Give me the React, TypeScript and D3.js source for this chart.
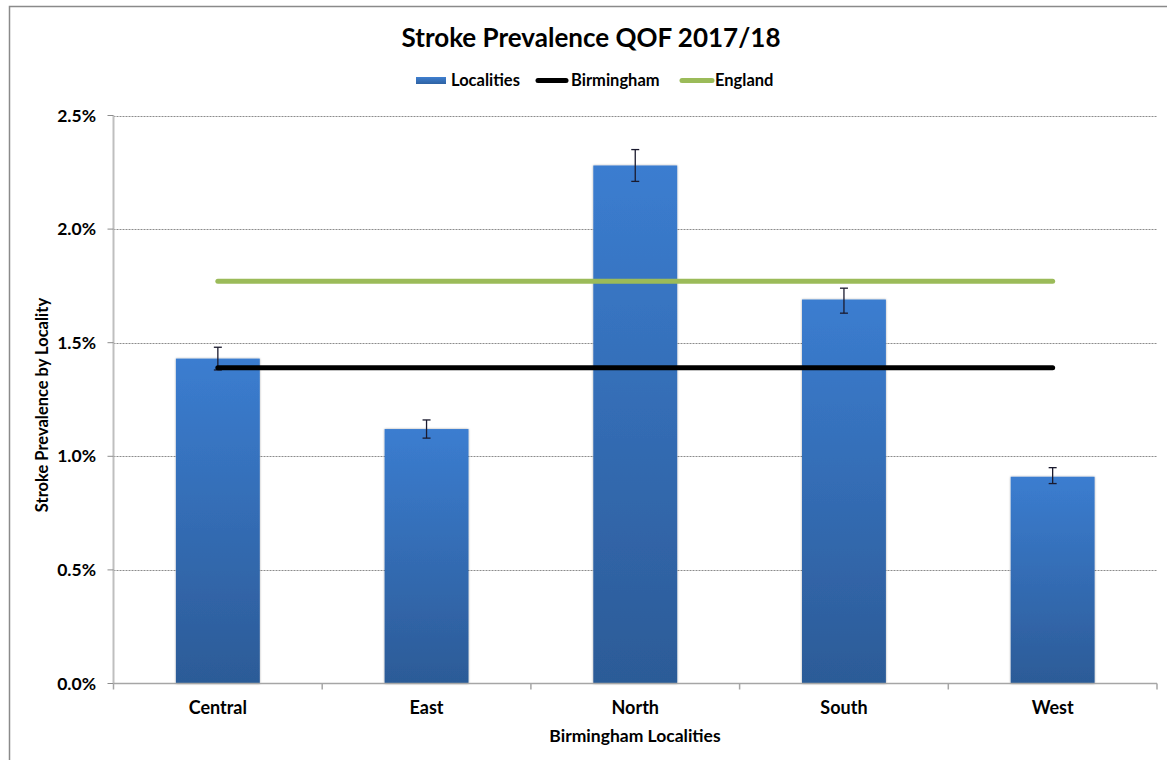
import React from "react";
import * as d3 from "d3";

const categories = ["Central", "East", "North", "South", "West"];
const values = [1.43, 1.12, 2.28, 1.69, 0.91];
const lowerCI = [1.38, 1.08, 2.21, 1.63, 0.88];
const upperCI = [1.48, 1.16, 2.35, 1.74, 0.95];
const birminghamValue = 1.39;
const englandValue = 1.77;
const yTicks = [0, 0.5, 1.0, 1.5, 2.0, 2.5];

const W = 1167;
const H = 760;
const FONT = "Lato, 'Open Sans', sans-serif";

export default function App() {
  const left = 113.5;
  const right = 1157;
  const top = 115.5;
  const bottom = 683.5;

  const x = d3
    .scaleBand<string>()
    .domain(categories)
    .range([left, right])
    .paddingInner(0.598)
    .paddingOuter(0.299);
  const y = d3.scaleLinear().domain([0, 2.5]).range([bottom, top]);
  const step = x.step();
  const cx = (c: string) => (x(c) as number) + x.bandwidth() / 2;

  const refLine = d3
    .line<string>()
    .x((c) => cx(c))
    .y(() => 0);

  const boundaries = d3.range(categories.length + 1).map((i) => left + i * step);

  return (
    <svg
      width={W}
      height={H}
      style={{ position: "absolute", left: 0, top: 0, fontFamily: FONT }}
    >
      <defs>
        <linearGradient id="barGrad" x1="0" y1="0" x2="0" y2="1">
          <stop offset="0" stopColor="#3b7dd0" />
          <stop offset="1" stopColor="#2c5b97" />
        </linearGradient>
        <linearGradient id="legGrad" x1="0" y1="0" x2="0" y2="1">
          <stop offset="0" stopColor="#3f7fcf" />
          <stop offset="1" stopColor="#2e62a3" />
        </linearGradient>
        <filter id="shadow" x="-10%" y="-5%" width="120%" height="110%">
          <feGaussianBlur in="SourceAlpha" stdDeviation="1.2" />
          <feOffset dx="0" dy="0" result="b" />
          <feComponentTransfer>
            <feFuncA type="linear" slope="0.35" />
          </feComponentTransfer>
          <feMerge>
            <feMergeNode />
            <feMergeNode in="SourceGraphic" />
          </feMerge>
        </filter>
      </defs>
      <rect x={0} y={0} width={W} height={H} fill="#ffffff" />
      <rect
        x={9.5}
        y={6.5}
        width={W + 20}
        height={H + 20}
        fill="#ffffff"
        stroke="#8a8a8a"
        strokeWidth={1.5}
      />

      {/* Title */}
      <text
        x={591}
        y={47}
        textAnchor="middle"
        fontSize={26}
        fontWeight="bold"
        fill="#000"
      >
        Stroke Prevalence QOF 2017/18
      </text>

      {/* Legend */}
      <g fontSize={16.5} fontWeight="bold" fill="#000">
        <rect x={416} y={77} width={30} height={7} fill="url(#legGrad)" />
        <text x={451} y={86}>Localities</text>
        <line x1={538} x2={566} y1={80.5} y2={80.5} stroke="#000" strokeWidth={5} strokeLinecap="round" />
        <text x={571} y={86}>Birmingham</text>
        <line x1={682} x2={712} y1={80.5} y2={80.5} stroke="#9bbb59" strokeWidth={5} strokeLinecap="round" />
        <text x={715} y={86}>England</text>
      </g>

      {/* Gridlines */}
      {yTicks
        .filter((t) => t > 0)
        .map((t) => (
          <line
            key={t}
            x1={left}
            x2={right}
            y1={Math.round(y(t)) + 0.5}
            y2={Math.round(y(t)) + 0.5}
            stroke="#8c8c8c"
            strokeWidth={1}
            strokeDasharray="2,1"
          />
        ))}

      {/* Y axis */}
      <line x1={left} x2={left} y1={top} y2={bottom} stroke="#bfbfbf" strokeWidth={2} />
      {yTicks.map((t) => (
        <g key={t}>
          <line x1={left - 6} x2={left} y1={y(t)} y2={y(t)} stroke="#8c8c8c" strokeWidth={1} />
          <text
            x={96}
            y={y(t) + 6}
            textAnchor="end"
            fontSize={17.5}
            fontWeight="bold"
            fill="#000"
          >
            {d3.format(".1%")(t / 100)}
          </text>
        </g>
      ))}

      {/* Bars */}
      {categories.map((c, i) => (
        <rect
          key={c}
          x={x(c)}
          y={y(values[i])}
          width={x.bandwidth()}
          height={y(0) - y(values[i])}
          fill="url(#barGrad)"
          filter="url(#shadow)"
        />
      ))}

      {/* X axis */}
      <line x1={left} x2={right} y1={bottom} y2={bottom} stroke="#a6a6a6" strokeWidth={1.5} />
      {boundaries.map((b, i) => (
        <line key={i} x1={b} x2={b} y1={bottom} y2={bottom + 6} stroke="#a6a6a6" strokeWidth={1.5} />
      ))}

      {/* Error bars */}
      {categories.map((c, i) => (
        <g key={c} stroke="#1a1a2e" strokeWidth={1.3}>
          <line x1={cx(c)} x2={cx(c)} y1={y(upperCI[i])} y2={y(lowerCI[i])} />
          <line x1={cx(c) - 4} x2={cx(c) + 4} y1={y(upperCI[i])} y2={y(upperCI[i])} />
          <line x1={cx(c) - 4} x2={cx(c) + 4} y1={y(lowerCI[i])} y2={y(lowerCI[i])} />
        </g>
      ))}

      {/* Reference lines */}
      <path
        d={refLine([categories[0], categories[categories.length - 1]]) || ""}
        transform={`translate(0,${y(englandValue)})`}
        stroke="#9bbb59"
        strokeWidth={5}
        strokeLinecap="round"
        fill="none"
      />
      <path
        d={refLine([categories[0], categories[categories.length - 1]]) || ""}
        transform={`translate(0,${y(birminghamValue)})`}
        stroke="#000"
        strokeWidth={5}
        strokeLinecap="round"
        fill="none"
      />

      {/* Category labels */}
      {categories.map((c) => (
        <text
          key={c}
          x={cx(c)}
          y={714}
          textAnchor="middle"
          fontSize={18}
          fontWeight="bold"
          fill="#000"
        >
          {c}
        </text>
      ))}

      {/* Axis titles */}
      <text x={635} y={742} textAnchor="middle" fontSize={17.5} fontWeight="bold" fill="#000">
        Birmingham Localities
      </text>
      <text
        transform={`translate(48,405) rotate(-90)`}
        textAnchor="middle"
        fontSize={16.5}
        fontWeight="bold"
        fill="#000"
      >
        Stroke Prevalence by Locality
      </text>
    </svg>
  );
}
